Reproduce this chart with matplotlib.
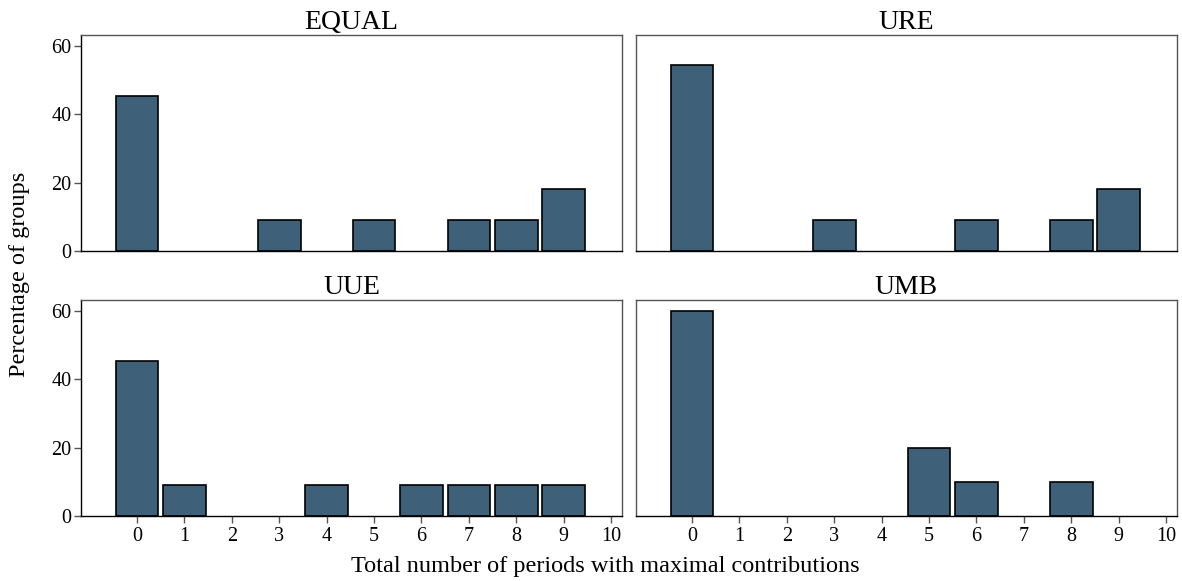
import matplotlib.pyplot as plt
import numpy as np

plt.rcParams['font.family'] = ['Liberation Serif', 'DejaVu Serif']

# Percentage of groups per number of periods with maximal contributions
periods = np.arange(0, 11)
treatments = ["EQUAL", "URE", "UUE", "UMB"]
equal = [45.45, 0, 0, 9.09, 0, 9.09, 0, 9.09, 9.09, 18.18, 0]
ure = [54.55, 0, 0, 9.09, 0, 0, 9.09, 0, 9.09, 18.18, 0]
uue = [45.45, 9.09, 0, 0, 9.09, 0, 9.09, 9.09, 9.09, 9.09, 0]
umb = [60, 0, 0, 0, 0, 20, 10, 0, 10, 0, 0]
series = [equal, ure, uue, umb]

bar_color = '#3e6079'

fig = plt.figure(figsize=(11.82, 5.81), dpi=100)
W, H = 1182, 581
boxes = [(81, 35, 622, 251), (636, 35, 1177, 251),
         (81, 300, 622, 516), (636, 300, 1177, 516)]

for i, (name, vals) in enumerate(zip(treatments, series)):
    x0, y0, x1, y1 = boxes[i]
    ax = fig.add_axes([x0 / W, 1 - y1 / H, (x1 - x0) / W, (y1 - y0) / H])
    v = np.array(vals)
    mask = v > 0
    ax.bar(periods[mask], v[mask], width=0.9, color=bar_color,
           edgecolor='black', linewidth=1.2)
    ax.set_xlim(-1.18, 10.23)
    ax.set_ylim(0, 63.2)
    ax.set_title(name, fontsize=20, pad=3)
    for s in ax.spines.values():
        s.set_color('#555555')
        s.set_linewidth(1.0)
    ax.spines['bottom'].set_color('black')
    if i % 2 == 0:
        ax.spines['left'].set_color('black')
        ax.set_yticks([0, 20, 40, 60])
        ax.tick_params(axis='y', labelsize=14.5, length=5, width=1,
                       color='#555555', pad=2)
    else:
        ax.set_yticks([])
    if i >= 2:
        ax.set_xticks(periods)
        ax.tick_params(axis='x', labelsize=14.5, length=5, width=1,
                       color='#555555', pad=3)
    else:
        ax.set_xticks([])

fig.text(20 / W, 1 - 274 / H, "Percentage of groups", rotation=90,
         ha='center', va='center', fontsize=17.5)
fig.text(605 / W, 1 - 572 / H, "Total number of periods with maximal contributions",
         ha='center', va='baseline', fontsize=17.5)

plt.savefig('out.png', dpi=100)
